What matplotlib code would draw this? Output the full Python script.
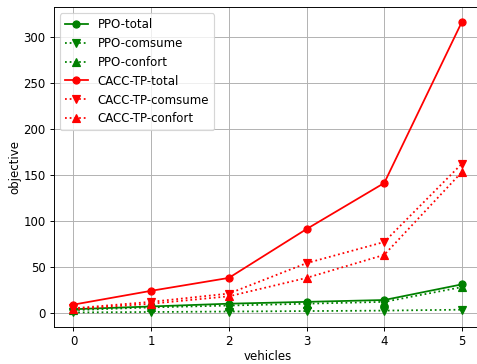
import matplotlib
matplotlib.use('Agg')
import matplotlib.pyplot as plt

vehicles = [0, 1, 2, 3, 4, 5]

ppo_total = [4, 7, 10, 12, 14, 31]
ppo_comsume = [0.5, 1, 1.5, 2, 2.5, 3.5]
ppo_confort = [3, 6, 8, 10, 12, 28]

cacc_total = [9, 24, 38, 91, 141, 316]
cacc_comsume = [5, 12, 21, 54, 77, 162]
cacc_confort = [4, 10, 18, 38, 63, 153]

# reference looks like a downscaled default figure, so render at a lower dpi
dpi = 85
fig = plt.figure(figsize=(478 / dpi, 364 / dpi), dpi=dpi)
ax = fig.add_axes([0.113, 0.1017, 0.894, 0.8783])

ax.plot(vehicles, ppo_total, color='green', linestyle='-', marker='o', label='PPO-total')
ax.plot(vehicles, ppo_comsume, color='green', linestyle=':', marker='v', label='PPO-comsume')
ax.plot(vehicles, ppo_confort, color='green', linestyle=':', marker='^', label='PPO-confort')
ax.plot(vehicles, cacc_total, color='red', linestyle='-', marker='o', label='CACC-TP-total')
ax.plot(vehicles, cacc_comsume, color='red', linestyle=':', marker='v', label='CACC-TP-comsume')
ax.plot(vehicles, cacc_confort, color='red', linestyle=':', marker='^', label='CACC-TP-confort')

ax.set_xlabel('vehicles', labelpad=1.5)
ax.set_ylabel('objective', labelpad=2)
ax.grid(True)
ax.legend(loc='upper left')

fig.savefig('out.png', dpi=dpi)
